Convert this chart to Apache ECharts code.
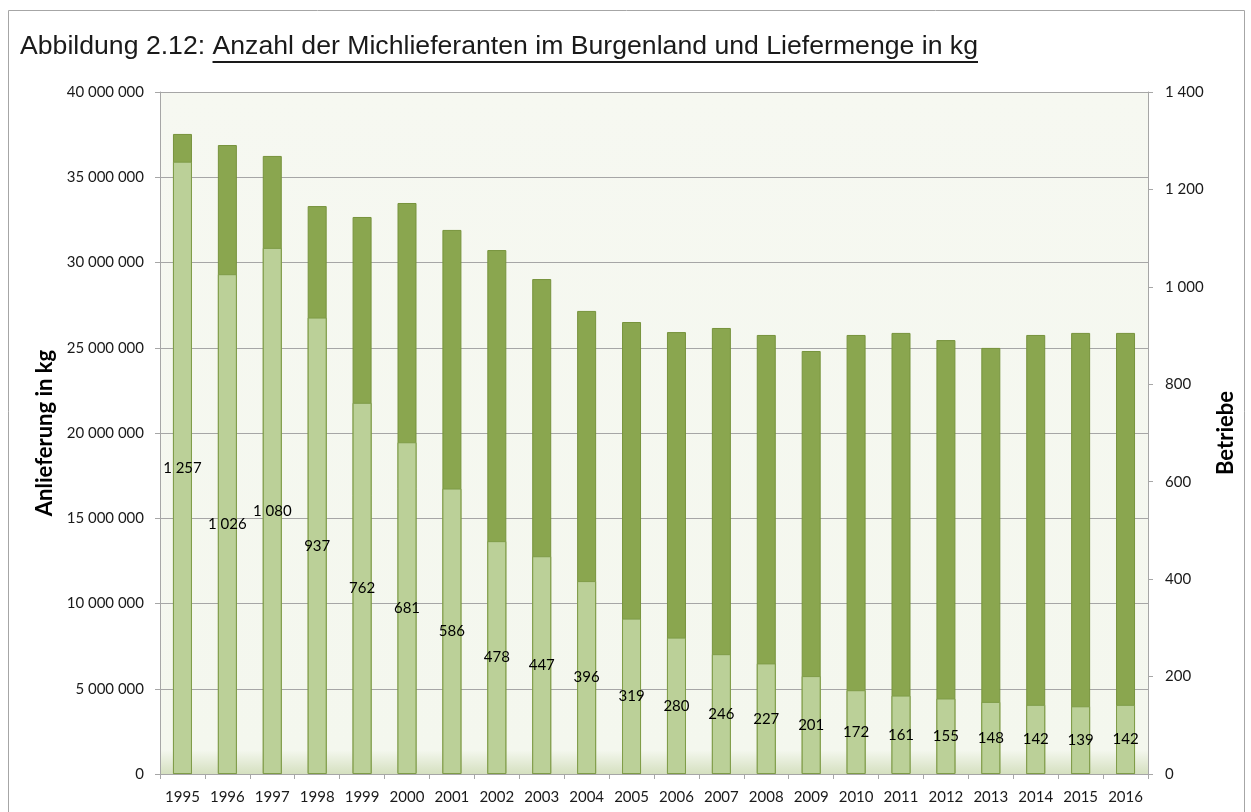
<!DOCTYPE html>
<html>
<head>
    <meta charset="UTF-8">
    <title>Anzahl der Michlieferanten im Burgenland</title>
    <script src="https://cdnjs.cloudflare.com/ajax/libs/echarts/6.0.0/echarts.min.js"></script>
    <style>
        html, body { margin: 0; padding: 0; background: #ffffff; }
        #chart { width: 1251px; height: 812px; }
    </style>
</head>
<body>
    <div id="chart"></div>
    <script type="text/javascript">
        // data
        var years = ['1995', '1996', '1997', '1998', '1999', '2000', '2001', '2002', '2003', '2004', '2005',
                     '2006', '2007', '2008', '2009', '2010', '2011', '2012', '2013', '2014', '2015', '2016'];
        var anlieferungKg = [37540000, 36890000, 36250000, 33310000, 32670000, 33490000, 31910000, 30730000,
                             29030000, 27160000, 26510000, 25920000, 26160000, 25750000, 24810000, 25750000,
                             25870000, 25450000, 24990000, 25750000, 25870000, 25870000];
        var betriebe = [1257, 1026, 1080, 937, 762, 681, 586, 478, 447, 396, 319,
                        280, 246, 227, 201, 172, 161, 155, 148, 142, 139, 142];

        var titlePrefix = 'Abbildung 2.12: ';
        var titleMain = 'Anzahl der Michlieferanten im Burgenland und Liefermenge in kg';

        function spaced(v) {
            return String(v).replace(/\B(?=(\d{3})+(?!\d))/g, ' ');
        }

        var labelFont = 'Lato, "Open Sans", sans-serif';
        var titleFont = '"Liberation Sans", Arial, sans-serif';

        // measure title pieces so the underline sits under the second part only,
        // the original title is a bit wider than plain Arial so stretch it a little
        var ctx = document.createElement('canvas').getContext('2d');
        ctx.font = '25px ' + titleFont;
        var rawPrefixW = ctx.measureText(titlePrefix).width;
        var rawMainW = ctx.measureText(titleMain).width;
        var titleX = 20;
        var stretch = 958 / (rawPrefixW + rawMainW);
        var prefixW = rawPrefixW * stretch;
        var mainW = rawMainW * stretch;

        var chart = echarts.init(document.getElementById('chart'));

        var option = {
            backgroundColor: '#ffffff',
            animation: false,
            graphic: [
                {
                    type: 'rect',
                    shape: { x: 8.5, y: 10.5, width: 1236, height: 830 },
                    style: { fill: 'none', stroke: '#a6a6a6', lineWidth: 1 },
                    silent: true
                },
                {
                    type: 'text',
                    x: titleX, y: 35,
                    scaleX: stretch,
                    style: { text: titlePrefix, font: '25px ' + titleFont, fill: '#1a1a1a' }
                },
                {
                    type: 'text',
                    x: titleX + prefixW, y: 35,
                    scaleX: stretch,
                    style: { text: titleMain, font: '25px ' + titleFont, fill: '#1a1a1a' }
                },
                {
                    type: 'rect',
                    shape: { x: titleX + prefixW, y: 61, width: mainW, height: 2 },
                    style: { fill: '#1a1a1a' },
                    silent: true
                }
            ],
            grid: {
                left: 160,
                right: 103,
                top: 92,
                bottom: 38,
                show: true,
                borderWidth: 0,
                backgroundColor: {
                    type: 'linear', x: 0, y: 0, x2: 0, y2: 1,
                    colorStops: [
                        { offset: 0, color: '#f6f8f1' },
                        { offset: 0.965, color: '#f4f7ee' },
                        { offset: 1, color: '#d5e0c0' }
                    ]
                }
            },
            xAxis: {
                type: 'category',
                data: years,
                axisLine: { show: true, lineStyle: { color: '#a6a6a6', width: 1 } },
                axisTick: { show: true, alignWithLabel: false, length: 5, lineStyle: { color: '#a6a6a6' } },
                axisLabel: { color: '#1a1a1a', fontFamily: labelFont, fontSize: 15, margin: 16, interval: 0 }
            },
            yAxis: [
                {
                    type: 'value',
                    min: 0,
                    max: 40000000,
                    interval: 5000000,
                    position: 'left',
                    name: 'Anlieferung in kg',
                    nameLocation: 'middle',
                    nameGap: 98,
                    nameRotate: 90,
                    nameTextStyle: { fontFamily: labelFont, fontSize: 22, fontWeight: 'bold', color: '#000000' },
                    axisLine: { show: true, lineStyle: { color: '#a6a6a6', width: 1 } },
                    axisTick: { show: true, length: 5, lineStyle: { color: '#a6a6a6' } },
                    axisLabel: { color: '#1a1a1a', fontFamily: labelFont, fontSize: 15, margin: 16, formatter: spaced },
                    splitLine: { show: true, lineStyle: { color: '#a6a6a6', width: 1 } }
                },
                {
                    type: 'value',
                    min: 0,
                    max: 1400,
                    interval: 200,
                    position: 'right',
                    name: 'Betriebe',
                    nameLocation: 'middle',
                    nameGap: 67,
                    nameRotate: 90,
                    nameTextStyle: { fontFamily: labelFont, fontSize: 22, fontWeight: 'bold', color: '#000000' },
                    axisLine: { show: true, lineStyle: { color: '#a6a6a6', width: 1 } },
                    axisTick: { show: true, length: 5, lineStyle: { color: '#a6a6a6' } },
                    axisLabel: { color: '#1a1a1a', fontFamily: labelFont, fontSize: 15, margin: 17, formatter: spaced },
                    splitLine: { show: false }
                }
            ],
            series: [
                {
                    name: 'Anlieferung in kg',
                    type: 'bar',
                    yAxisIndex: 0,
                    data: anlieferungKg,
                    barWidth: 19,
                    barGap: '-100%',
                    itemStyle: { color: '#8aa64f', borderColor: '#77933c', borderWidth: 1 }
                },
                {
                    name: 'Betriebe',
                    type: 'bar',
                    yAxisIndex: 1,
                    data: betriebe,
                    barWidth: 19,
                    barGap: '-100%',
                    itemStyle: { color: '#bbd098', borderColor: '#7f9c48', borderWidth: 1 },
                    label: {
                        show: true,
                        position: 'inside',
                        color: '#000000',
                        fontFamily: labelFont,
                        fontSize: 15,
                        formatter: function (p) { return spaced(p.value); }
                    }
                }
            ]
        };

        chart.setOption(option);
    </script>
</body>
</html>
